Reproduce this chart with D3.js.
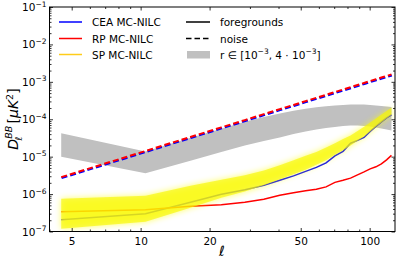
<!DOCTYPE html>
<html><head><meta charset="utf-8">
<script src="https://cdn.jsdelivr.net/npm/d3@7"></script>
<style>body{margin:0;background:#fff;} text{font-family:"DejaVu Sans",sans-serif;fill:#000;}</style>
</head><body>
<svg id="chart" width="399" height="263"></svg>
<script>
const ell = [4.5,10.5,16.5,22.5,28.5,34.5,40.5,46.5,52.5,58.5,64.5,70.5,76.5,82.5,88.5,94.5,100.5,106.5,112.5,118.5,124.5];
const noise = [2.84e-6,1.42e-5,3.37e-5,6.07e-5,9.5e-5,1.37e-4,1.86e-4,2.41e-4,3.05e-4,3.74e-4,4.51e-4,5.33e-4,6.24e-4,7.19e-4,8.22e-4,9.31e-4,1.05e-3,1.17e-3,1.30e-3,1.43e-3,1.57e-3];
const fgCEA = [2.05e-7,2.97e-7,6.03e-7,9.84e-7,1.30e-6,1.71e-6,2.33e-6,3.07e-6,4.05e-6,5.17e-6,6.82e-6,1.05e-5,1.39e-5,2.29e-5,2.72e-5,3.27e-5,4.74e-5,6.44e-5,8.49e-5,1.09e-4,1.31e-4];
const fgRP = [3.36e-7,3.79e-7,4.71e-7,5.16e-7,6.03e-7,7.24e-7,9.27e-7,1.08e-6,1.22e-6,1.34e-6,1.56e-6,2.06e-6,2.33e-6,2.67e-6,3.27e-6,3.93e-6,4.72e-6,5.35e-6,6.43e-6,8.22e-6,1.08e-5];
const spHigh = [7.46e-7,8.97e-7,1.66e-6,2.40e-6,3.17e-6,4.30e-6,5.86e-6,7.96e-6,1.05e-5,1.34e-5,1.77e-5,2.30e-5,2.95e-5,3.70e-5,4.85e-5,6.35e-5,8.20e-5,1.05e-4,1.34e-4,1.66e-4,2.05e-4];
const spLow = [1.18e-7,1.82e-7,4.30e-7,7.94e-7,1.18e-6,1.71e-6,2.48e-6,3.37e-6,4.45e-6,6.04e-6,7.96e-6,1.12e-5,1.48e-5,2.00e-5,2.65e-5,3.45e-5,4.70e-5,6.30e-5,8.20e-5,1.05e-4,1.30e-4];
const rHigh = [4.25e-5,1.37e-5,3.18e-5,5.6e-5,8.6e-5,1.15e-4,1.42e-4,1.70e-4,1.92e-4,2.08e-4,2.22e-4,2.32e-4,2.40e-4,2.46e-4,2.48e-4,2.48e-4,2.42e-4,2.34e-4,2.27e-4,2.20e-4,2.14e-4];
const rLow = [1.0e-5,3.6e-6,7.73e-6,1.34e-5,2.00e-5,2.64e-5,3.27e-5,4.06e-5,4.74e-5,5.36e-5,5.87e-5,6.25e-5,6.64e-5,6.85e-5,6.85e-5,6.64e-5,6.44e-5,6.05e-5,5.70e-5,5.36e-5,5.04e-5];
const xTickVals = [5,10,20,50,100];
const xMinorVals = [4,6,7,8,9,30,40,60,70,80,90];
const yTickVals = [1e-7,1e-6,1e-5,1e-4,1e-3,1e-2,1e-1];
const yTickExp = ["−7","−6","−5","−4","−3","−2","−1"];
const legendLeft = ["CEA MC-NILC","RP MC-NILC","SP MC-NILC"];
const legendLeftColors = ["#0000ff","#ff0000","#ffcc1a"];

const W=399,H=263, L=49.5, R=395, T=7, B=231.5;
const svg = d3.select("#chart");
const x = d3.scaleLog().domain([4,129]).range([L,R]);
const y = d3.scaleLog().domain([1e-7,1e-1]).range([B,T]);

const defs = svg.append("defs");
defs.append("clipPath").attr("id","clip").append("rect").attr("x",L).attr("y",T).attr("width",R-L).attr("height",B-T);
const f = defs.append("filter").attr("id","blur").attr("x","-20%").attr("y","-50%").attr("width","140%").attr("height","200%");
f.append("feGaussianBlur").attr("stdDeviation",3);

const g = svg.append("g").attr("clip-path","url(#clip)");
const idx = d3.range(ell.length);

// r band
g.append("path").datum(idx)
  .attr("d", d3.area().x(i=>x(ell[i])).y0(i=>y(rLow[i])).y1(i=>y(rHigh[i])))
  .attr("fill","#c0c0c0");

const line = arr => d3.line().x(i=>x(ell[i])).y(i=>y(arr[i]))(idx);
// noise
g.append("path").attr("d",line(noise)).attr("fill","none").attr("stroke","#0000ff").attr("stroke-width",2)
  .attr("stroke-dasharray","6,3").attr("transform","translate(0.4,1)");
g.append("path").attr("d",line(noise)).attr("fill","none").attr("stroke","#ff0000").attr("stroke-width",2)
  .attr("stroke-dasharray","6,3");
// foregrounds
g.append("path").attr("d",line(fgCEA)).attr("fill","none").attr("stroke","#0000ff").attr("stroke-width",1.5);
g.append("path").attr("d",line(fgRP)).attr("fill","none").attr("stroke","#ff0000").attr("stroke-width",1.5);

// SP band
const spArea = d3.area().x(i=>x(ell[i])).y0(i=>y(spLow[i])).y1(i=>y(spHigh[i]));
g.append("path").datum(idx).attr("d",spArea).attr("fill","#ffff00").attr("opacity",0.6).attr("filter","url(#blur)");
g.append("path").datum(idx).attr("d",spArea).attr("fill","#f8f800").attr("opacity",0.65);

// axes frame
svg.append("rect").attr("x",L).attr("y",T).attr("width",R-L).attr("height",B-T)
  .attr("fill","none").attr("stroke","#000").attr("stroke-width",1);

function styleAxis(sel){ sel.select(".domain").remove(); sel.selectAll("line").attr("stroke","#000").attr("stroke-width",0.8); }
// x axes
svg.append("g").attr("transform",`translate(0,${B})`)
  .call(d3.axisBottom(x).tickValues(xTickVals).tickFormat(d3.format("d")).tickSize(-3.5).tickPadding(6))
  .call(styleAxis).selectAll("text").attr("font-size","10.5px").attr("font-family","DejaVu Sans");
svg.append("g").attr("transform",`translate(0,${B})`)
  .call(d3.axisBottom(x).tickValues(xMinorVals).tickFormat("").tickSize(-2)).call(styleAxis);
svg.append("g").attr("transform",`translate(0,${T})`)
  .call(d3.axisTop(x).tickValues(xTickVals).tickFormat("").tickSize(-3.5)).call(styleAxis);
svg.append("g").attr("transform",`translate(0,${T})`)
  .call(d3.axisTop(x).tickValues(xMinorVals).tickFormat("").tickSize(-2)).call(styleAxis);

// y axes
const yMinor = [];
yTickVals.slice(0,-1).forEach(v=>{ for(let k=2;k<10;k++) yMinor.push(v*k); });
svg.append("g").attr("transform",`translate(${L},0)`)
  .call(d3.axisLeft(y).tickValues(yTickVals).tickFormat("").tickSize(-3.5)).call(styleAxis);
svg.append("g").attr("transform",`translate(${L},0)`)
  .call(d3.axisLeft(y).tickValues(yMinor).tickFormat("").tickSize(-2)).call(styleAxis);
svg.append("g").attr("transform",`translate(${R},0)`)
  .call(d3.axisRight(y).tickValues(yTickVals).tickFormat("").tickSize(-3.5)).call(styleAxis);
svg.append("g").attr("transform",`translate(${R},0)`)
  .call(d3.axisRight(y).tickValues(yMinor).tickFormat("").tickSize(-2)).call(styleAxis);

yTickVals.forEach((v,i)=>{
  const t = svg.append("text").attr("x",46.5).attr("y",y(v)+4).attr("text-anchor","end").attr("font-size","10.5px");
  t.append("tspan").text("10");
  t.append("tspan").attr("font-size","7.5px").attr("dy",-4.5).text(yTickExp[i]);
});

// axis labels
svg.append("text").attr("x",222).attr("y",256).attr("text-anchor","middle")
  .attr("font-size","14px").attr("font-style","italic").attr("font-family","DejaVu Serif").text("ℓ");
const yl = svg.append("text").attr("transform","translate(18,119) rotate(-90)").attr("text-anchor","middle").attr("font-size","14px");
yl.append("tspan").attr("font-style","italic").text("D");
yl.append("tspan").attr("font-size","9.5px").attr("font-style","italic").attr("dy",-6).text("BB");
yl.append("tspan").attr("font-size","9.5px").attr("font-style","italic").attr("dx",-15).attr("dy",10).text("ℓ");
yl.append("tspan").attr("dx",9).attr("dy",-4).text(" [");
yl.append("tspan").attr("font-style","italic").text("μK");
yl.append("tspan").attr("font-size","9.5px").attr("dy",-5).text("2");
yl.append("tspan").attr("dy",5).text("]");

// legend
const rows = [22,38.5,54.5];
legendLeft.forEach((name,i)=>{
  svg.append("line").attr("x1",59).attr("x2",82).attr("y1",rows[i]).attr("y2",rows[i]).attr("stroke",legendLeftColors[i]).attr("stroke-width",1.5);
  svg.append("text").attr("x",92).attr("y",rows[i]+4).attr("font-size","10.5px").text(name);
});
svg.append("line").attr("x1",186).attr("x2",210).attr("y1",rows[0]).attr("y2",rows[0]).attr("stroke","#000").attr("stroke-width",1.5);
svg.append("line").attr("x1",186).attr("x2",210).attr("y1",rows[1]).attr("y2",rows[1]).attr("stroke","#000").attr("stroke-width",1.5).attr("stroke-dasharray","5.5,3");
svg.append("rect").attr("x",187).attr("y",rows[2]-3.5).attr("width",23).attr("height",7.5).attr("fill","#c0c0c0");
svg.append("text").attr("x",220).attr("y",rows[0]+4).attr("font-size","10.5px").text("foregrounds");
svg.append("text").attr("x",220).attr("y",rows[1]+4).attr("font-size","10.5px").text("noise");
const rt = svg.append("text").attr("x",220).attr("y",rows[2]+4).attr("font-size","10.5px");
rt.append("tspan").text("r ∈ [10");
rt.append("tspan").attr("font-size","7.5px").attr("dy",-4.5).text("−3");
rt.append("tspan").attr("dy",4.5).text(", 4 · 10");
rt.append("tspan").attr("font-size","7.5px").attr("dy",-4.5).text("−3");
rt.append("tspan").attr("dy",4.5).text("]");
</script>
</body></html>
